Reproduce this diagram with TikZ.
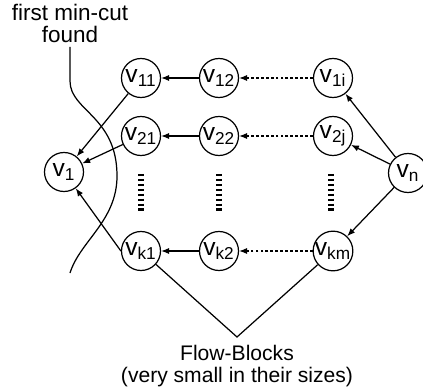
\documentclass[tikz,border=0pt]{standalone}
\usepackage{fontspec}
\setmainfont{Liberation Sans}
\usetikzlibrary{arrows.meta}

\begin{document}
\begin{tikzpicture}[
			vert/.style={draw,circle,line width=0.7pt,minimum size=0.78cm,inner sep=0pt,font=\fontsize{14}{16}\selectfont},
			link/.style={line width=0.7pt,-{Latex[length=4.5pt,width=3.5pt]}},
			hop/.style={link,dash pattern=on 1.6pt off 1.2pt},
			more/.style={line width=3pt,dash pattern=on 1.4pt off 1.4pt},
			note/.style={align=center,font=\fontsize{12}{12.8}\selectfont}]
			\useasboundingbox (0,0) rectangle (8.46,7.82);
			\node[vert] (v11) at (2.82,6.26) {v\textsubscript{11}};
			\node[vert] (v12) at (4.38,6.26) {v\textsubscript{12}};
			\node[vert] (v1i) at (6.66,6.26) {v\textsubscript{1i}};
			\node[vert] (v21) at (2.82,5.10) {v\textsubscript{21}};
			\node[vert] (v22) at (4.38,5.10) {v\textsubscript{22}};
			\node[vert] (v2j) at (6.66,5.10) {v\textsubscript{2j}};
			\node[vert] (vk1) at (2.82,2.80) {v\textsubscript{k1}};
			\node[vert] (vk2) at (4.38,2.80) {v\textsubscript{k2}};
			\node[vert] (vkm) at (6.66,2.80) {v\textsubscript{km}};
			\node[vert] (v1) at (1.28,4.38) {v\textsubscript{1}};
			\node[vert] (vn) at (8.16,4.36) {v\textsubscript{n}};
			\node[note,font=\fontsize{12.8}{12.6}\selectfont] (cut) at (1.40,7.35) {first min-cut\\found};
			\node[note] (blocks) at (4.74,0.50) {Flow-Blocks\\(very small in their sizes)};
			\coordinate (apex) at (4.74,1.08);
			\coordinate (cutend) at (1.40,2.36);
			\draw[link](v12)--(v11);
			\draw[link](v22)--(v21);
			\draw[link](vk2)--(vk1);
			\draw[hop](v1i)--(v12);
			\draw[hop](v2j)--(v22);
			\draw[hop](vkm)--(vk2);
			\draw[link](v11)--(v1);
			\draw[link](v21)--(v1);
			\draw[link](vk1.west)--(v1);
			\draw[link](vn)--(v1i);
			\draw[link](vn)--(v2j);
			\draw[link](vn)--(vkm);
			\draw[line width=0.7pt](vk1)--(apex)--(vkm);
			\draw[more](2.82,4.34)--(2.82,3.56);
			\draw[more](4.38,4.34)--(4.38,3.56);
			\draw[more](6.62,4.34)--(6.62,3.56);
			\draw[line width=0.7pt](1.40,6.88)--(1.40,6.2) .. controls (1.40,5.6) and (2.34,5.5) .. (2.34,4.3) .. controls (2.34,3.4) and (1.6,3.0) .. (cutend);
			\end{tikzpicture}
\end{document}
